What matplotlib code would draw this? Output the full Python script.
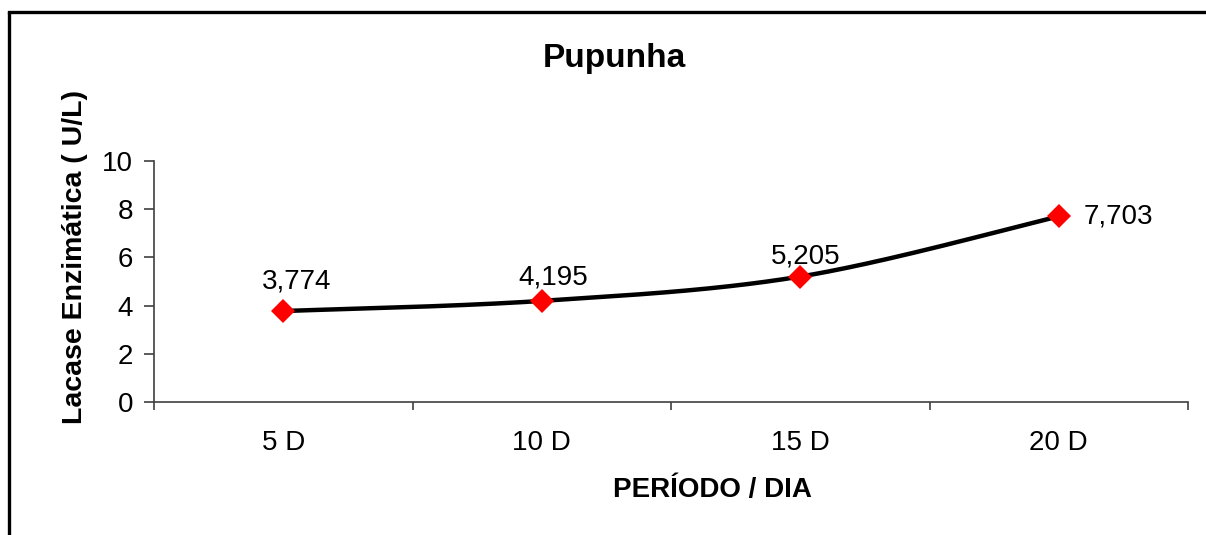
import numpy as np
import matplotlib
matplotlib.use("Agg")
import matplotlib.pyplot as plt
from matplotlib.lines import Line2D

plt.rcParams['font.family'] = ['Liberation Sans', 'DejaVu Sans']

# Data
categories = ["5 D", "10 D", "15 D", "20 D"]
lacase = [3.774, 4.195, 5.205, 7.703]
value_labels = ["3,774", "4,195", "5,205", "7,703"]
y_ticks = [0, 2, 4, 6, 8, 10]

W, H, DPI = 1206, 535, 100
fig = plt.figure(figsize=(W / DPI, H / DPI), dpi=DPI)

# plot area in pixel coordinates
left, right, top, bottom = 154, 1188, 161, 402
ax = fig.add_axes([left / W, 1 - bottom / H, (right - left) / W, (bottom - top) / H])

xpos = np.arange(1, len(categories) + 1, dtype=float)
yv = np.array(lacase)


def smooth_curve(x, y, n=60):
    """Bezier smoothing through every point (Catmull-Rom style tangents)."""
    pts = np.column_stack([x, y])
    out = []
    for i in range(len(pts) - 1):
        p0 = pts[i - 1] if i > 0 else pts[i]
        p1 = pts[i]
        p2 = pts[i + 1]
        p3 = pts[i + 2] if i + 2 < len(pts) else pts[i + 1]
        c1 = p1 + (p2 - p0) / 6.0
        c2 = p2 - (p3 - p1) / 6.0
        t = np.linspace(0, 1, n)[:, None]
        seg = ((1 - t) ** 3) * p1 + 3 * ((1 - t) ** 2) * t * c1 + 3 * (1 - t) * t ** 2 * c2 + t ** 3 * p2
        out.append(seg if i == 0 else seg[1:])
    seg = np.vstack(out)
    return seg[:, 0], seg[:, 1]


FS = 20

sx, sy = smooth_curve(xpos, yv)
ax.plot(sx, sy, color="black", lw=3.2, solid_capstyle="butt", zorder=2)
ax.plot(xpos, yv, linestyle="none", marker="D", markersize=12, color="#FF0000",
        markeredgewidth=0, zorder=3)

# value labels (offsets in points from each marker)
offsets = [(10, 16.5, "center", "baseline"), (8, 12, "center", "baseline"),
           (3.6, 9.5, "center", "baseline"), (18, 0, "left", "center")]
for x, y, lab, (dx, dy, ha, va) in zip(xpos, yv, value_labels, offsets):
    ax.annotate(lab, (x, y), xytext=(dx, dy), textcoords="offset points",
                ha=ha, va=va, fontsize=FS, color="black")

ax.set_xlim(0.5, len(categories) + 0.5)
ax.set_ylim(0, 10)

# y axis
ax.set_yticks(y_ticks)
ax.set_yticklabels([str(v) for v in y_ticks])
ax.tick_params(axis="y", direction="out", length=7.2, width=1.2, color="#404040",
               pad=8, labelsize=FS)

# x axis: ticks at category boundaries, labels at centers
ax.set_xticks(np.arange(0.5, len(categories) + 1, 1.0))
ax.set_xticklabels([])
ax.tick_params(axis="x", which="major", direction="out", length=6, width=1.2, color="#404040")
ax.set_xticks(xpos, minor=True)
ax.set_xticklabels(categories, minor=True)
ax.tick_params(axis="x", which="minor", length=0, pad=20, labelsize=FS)

for s in ["top", "right"]:
    ax.spines[s].set_visible(False)
for s in ["left", "bottom"]:
    ax.spines[s].set_color("#404040")
    ax.spines[s].set_linewidth(1.2)

# titles and axis labels
fig.text(614 / W, 1 - 58 / H, "Pupunha", ha="center", va="center",
         fontsize=24, fontweight="bold")
fig.text(712 / W, 1 - 490 / H, "PERÍODO / DIA", ha="center", va="center",
         fontsize=FS, fontweight="bold")
fig.text(75 / W, 1 - 257 / H, "Lacase Enzimática ( U/L)", ha="center", va="center",
         rotation=90, fontsize=20.5, fontweight="bold")

# chart frame (open to the right and bottom)
fig.add_artist(Line2D([9 / W, 9 / W], [0, 1 - 12 / H], transform=fig.transFigure,
                      color="black", lw=2.4, solid_capstyle="butt"))
fig.add_artist(Line2D([9 / W, 1], [1 - 12 / H, 1 - 12 / H], transform=fig.transFigure,
                      color="black", lw=2.4, solid_capstyle="projecting"))

fig.savefig("out.png", dpi=DPI)
